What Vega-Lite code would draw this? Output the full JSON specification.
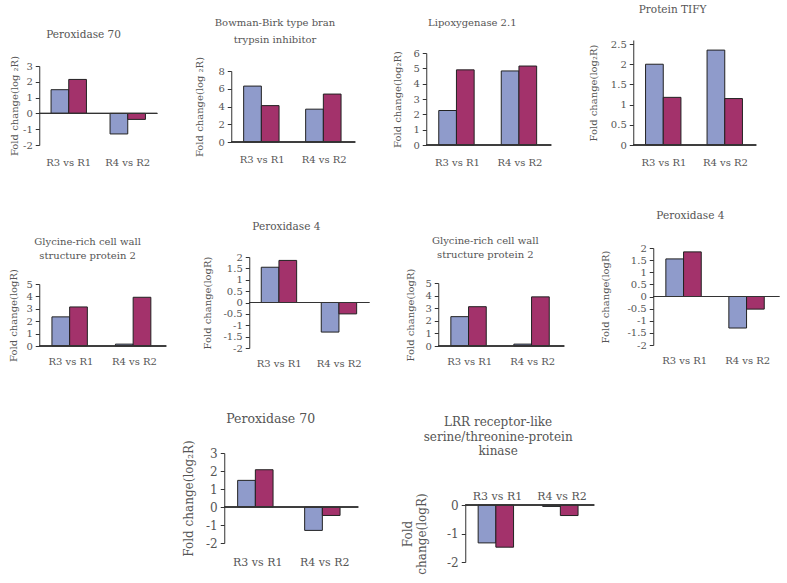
{
  "$schema": "https://vega.github.io/schema/vega-lite/v6.json",
  "background": "white",
  "padding": {"left": 8, "top": 4, "right": 5, "bottom": 0},
  "center": true,
  "spacing": 45,
  "vconcat": [
    {
      "spacing": 43,
      "center": false,
      "vconcat": [
        {
          "spacing": 36,
          "hconcat": [
            {
              "width": 118, "height": 105,
              "title": {"text": "Peroxidase 70", "offset": 0},
              "data": {"values": [
                {"comparison": "R3 vs R1", "series": "Series1", "value": 1.5},
                {"comparison": "R3 vs R1", "series": "Series2", "value": 2.15},
                {"comparison": "R4 vs R2", "series": "Series1", "value": -1.3},
                {"comparison": "R4 vs R2", "series": "Series2", "value": -0.38}
              ]},
              "layer": [
                {"mark": "bar", "encoding": {
                  "x": {"field": "comparison", "type": "nominal", "sort": null, "scale": {"paddingInner": 0.4, "paddingOuter": 0.2}, "axis": {"labelPadding": 12}},
                  "xOffset": {"field": "series", "type": "nominal", "sort": null},
                  "y": {"field": "value", "type": "quantitative", "scale": {"domain": [-2, 3], "range": [105, 26]}, "axis": {"values": [-2, -1, 0, 1, 2, 3], "labelOverlap": false, "title": "Fold change(log ₂R)", "titlePadding": 3}},
                  "color": {"field": "series", "type": "nominal", "scale": {"range": ["#8f9bcb", "#a3326b"]}, "legend": null}
                }},
                {"mark": {"type": "rule", "color": "#333"}, "encoding": {"y": {"datum": 0, "axis": {"values": [-2, -1, 0, 1, 2, 3], "labelOverlap": false, "title": "Fold change(log ₂R)", "titlePadding": 3}}}}
              ]
            },
            {
              "width": 124, "height": 102,
              "title": {"text": ["Bowman-Birk type bran", "trypsin inhibitor"], "offset": -5, "lineHeight": 16.7, "fontSize": 10},
              "data": {"values": [
                {"comparison": "R3 vs R1", "series": "Series1", "value": 6.3},
                {"comparison": "R3 vs R1", "series": "Series2", "value": 4.1},
                {"comparison": "R4 vs R2", "series": "Series1", "value": 3.7},
                {"comparison": "R4 vs R2", "series": "Series2", "value": 5.4}
              ]},
              "layer": [
                {"mark": "bar", "encoding": {
                  "x": {"field": "comparison", "type": "nominal", "sort": null, "scale": {"paddingInner": 0.4, "paddingOuter": 0.2}, "axis": {"labelPadding": 12}},
                  "xOffset": {"field": "series", "type": "nominal", "sort": null},
                  "y": {"field": "value", "type": "quantitative", "scale": {"domain": [0, 8], "range": [102, 31]}, "axis": {"values": [0, 2, 4, 6, 8], "labelOverlap": false, "title": "Fold change(log ₂R)", "titlePadding": 13.6}},
                  "color": {"field": "series", "type": "nominal", "scale": {"range": ["#8f9bcb", "#a3326b"]}, "legend": null}
                }},
                {"mark": {"type": "rule", "color": "#333"}, "encoding": {"y": {"datum": 0, "axis": {"values": [0, 2, 4, 6, 8], "labelOverlap": false, "title": "Fold change(log ₂R)", "titlePadding": 13.6}}}}
              ]
            },
            {
              "width": 125, "height": 105,
              "title": {"text": "Lipoxygenase 2.1", "offset": 12, "fontSize": 10},
              "data": {"values": [
                {"comparison": "R3 vs R1", "series": "Series1", "value": 2.25},
                {"comparison": "R3 vs R1", "series": "Series2", "value": 4.9},
                {"comparison": "R4 vs R2", "series": "Series1", "value": 4.83},
                {"comparison": "R4 vs R2", "series": "Series2", "value": 5.15}
              ]},
              "layer": [
                {"mark": "bar", "encoding": {
                  "x": {"field": "comparison", "type": "nominal", "sort": null, "scale": {"paddingInner": 0.4, "paddingOuter": 0.2}, "axis": {"labelPadding": 12}},
                  "xOffset": {"field": "series", "type": "nominal", "sort": null},
                  "y": {"field": "value", "type": "quantitative", "scale": {"domain": [0, 6], "range": [105, 13]}, "axis": {"values": [0, 1, 2, 3, 4, 5, 6], "labelOverlap": false, "title": "Fold change(log₂R)", "titlePadding": 10}},
                  "color": {"field": "series", "type": "nominal", "scale": {"range": ["#8f9bcb", "#a3326b"]}, "legend": null}
                }},
                {"mark": {"type": "rule", "color": "#333"}, "encoding": {"y": {"datum": 0, "axis": {"values": [0, 1, 2, 3, 4, 5, 6], "labelOverlap": false, "title": "Fold change(log₂R)", "titlePadding": 10}}}}
              ]
            },
            {
              "width": 123, "height": 105,
              "title": {"text": "Protein TIFY", "offset": 24},
              "data": {"values": [
                {"comparison": "R3 vs R1", "series": "Series1", "value": 2.0},
                {"comparison": "R3 vs R1", "series": "Series2", "value": 1.18},
                {"comparison": "R4 vs R2", "series": "Series1", "value": 2.35},
                {"comparison": "R4 vs R2", "series": "Series2", "value": 1.15}
              ]},
              "layer": [
                {"mark": "bar", "encoding": {
                  "x": {"field": "comparison", "type": "nominal", "sort": null, "scale": {"paddingInner": 0.4, "paddingOuter": 0.2}, "axis": {"labelPadding": 12}},
                  "xOffset": {"field": "series", "type": "nominal", "sort": null},
                  "y": {"field": "value", "type": "quantitative", "scale": {"domain": [0, 2.5]}, "axis": {"values": [0, 0.5, 1, 1.5, 2, 2.5], "labelOverlap": false, "title": "Fold change(log₂R)", "titlePadding": 12}},
                  "color": {"field": "series", "type": "nominal", "scale": {"range": ["#8f9bcb", "#a3326b"]}, "legend": null}
                }},
                {"mark": {"type": "rule", "color": "#333"}, "encoding": {"y": {"datum": 0, "axis": {"values": [0, 0.5, 1, 1.5, 2, 2.5], "labelOverlap": false, "title": "Fold change(log₂R)", "titlePadding": 12}}}}
              ]
            }
          ]
        },
        {
          "spacing": 35,
          "hconcat": [
            {
              "width": 127, "height": 98,
              "title": {"text": ["Glycine-rich cell wall", "structure protein 2"], "offset": -13, "lineHeight": 14, "fontSize": 10},
              "data": {"values": [
                {"comparison": "R3 vs R1", "series": "Series1", "value": 2.35},
                {"comparison": "R3 vs R1", "series": "Series2", "value": 3.15},
                {"comparison": "R4 vs R2", "series": "Series1", "value": 0.15},
                {"comparison": "R4 vs R2", "series": "Series2", "value": 3.93}
              ]},
              "layer": [
                {"mark": "bar", "encoding": {
                  "x": {"field": "comparison", "type": "nominal", "sort": null, "scale": {"paddingInner": 0.4, "paddingOuter": 0.2}},
                  "xOffset": {"field": "series", "type": "nominal", "sort": null},
                  "y": {"field": "value", "type": "quantitative", "scale": {"domain": [0, 5], "range": [98, 36]}, "axis": {"values": [0, 1, 2, 3, 4, 5], "labelOverlap": false, "title": "Fold change(logR)", "titlePadding": 7.4}},
                  "color": {"field": "series", "type": "nominal", "scale": {"range": ["#8f9bcb", "#a3326b"]}, "legend": null}
                }},
                {"mark": {"type": "rule", "color": "#333"}, "encoding": {"y": {"datum": 0, "axis": {"values": [0, 1, 2, 3, 4, 5], "labelOverlap": false, "title": "Fold change(logR)", "titlePadding": 7.4}}}}
              ]
            },
            {
              "width": 120, "height": 100,
              "title": {"text": "Peroxidase 4", "offset": 16},
              "data": {"values": [
                {"comparison": "R3 vs R1", "series": "Series1", "value": 1.55},
                {"comparison": "R3 vs R1", "series": "Series2", "value": 1.85},
                {"comparison": "R4 vs R2", "series": "Series1", "value": -1.3},
                {"comparison": "R4 vs R2", "series": "Series2", "value": -0.5}
              ]},
              "layer": [
                {"mark": "bar", "encoding": {
                  "x": {"field": "comparison", "type": "nominal", "sort": null, "scale": {"paddingInner": 0.4, "paddingOuter": 0.2}},
                  "xOffset": {"field": "series", "type": "nominal", "sort": null},
                  "y": {"field": "value", "type": "quantitative", "scale": {"domain": [-2, 2], "range": [100, 9]}, "axis": {"values": [-2, -1.5, -1, -0.5, 0, 0.5, 1, 1.5, 2], "labelOverlap": false, "title": "Fold change(logR)", "titlePadding": 10}},
                  "color": {"field": "series", "type": "nominal", "scale": {"range": ["#8f9bcb", "#a3326b"]}, "legend": null}
                }},
                {"mark": {"type": "rule", "color": "#333"}, "encoding": {"y": {"datum": 0, "axis": {"values": [-2, -1.5, -1, -0.5, 0, 0.5, 1, 1.5, 2], "labelOverlap": false, "title": "Fold change(logR)", "titlePadding": 10}}}}
              ]
            },
            {
              "width": 126, "height": 98,
              "title": {"text": ["Glycine-rich cell wall", "structure protein 2"], "offset": -12, "lineHeight": 14, "fontSize": 10},
              "data": {"values": [
                {"comparison": "R3 vs R1", "series": "Series1", "value": 2.33},
                {"comparison": "R3 vs R1", "series": "Series2", "value": 3.12},
                {"comparison": "R4 vs R2", "series": "Series1", "value": 0.15},
                {"comparison": "R4 vs R2", "series": "Series2", "value": 3.9}
              ]},
              "layer": [
                {"mark": "bar", "encoding": {
                  "x": {"field": "comparison", "type": "nominal", "sort": null, "scale": {"paddingInner": 0.4, "paddingOuter": 0.2}},
                  "xOffset": {"field": "series", "type": "nominal", "sort": null},
                  "y": {"field": "value", "type": "quantitative", "scale": {"domain": [0, 5], "range": [98, 35]}, "axis": {"values": [0, 1, 2, 3, 4, 5], "labelOverlap": false, "title": "Fold change(logR)", "titlePadding": 9}},
                  "color": {"field": "series", "type": "nominal", "scale": {"range": ["#8f9bcb", "#a3326b"]}, "legend": null}
                }},
                {"mark": {"type": "rule", "color": "#333"}, "encoding": {"y": {"datum": 0, "axis": {"values": [0, 1, 2, 3, 4, 5], "labelOverlap": false, "title": "Fold change(logR)", "titlePadding": 9}}}}
              ]
            },
            {
              "width": 126, "height": 97,
              "title": {"text": "Peroxidase 4", "offset": 22},
              "data": {"values": [
                {"comparison": "R3 vs R1", "series": "Series1", "value": 1.55},
                {"comparison": "R3 vs R1", "series": "Series2", "value": 1.84},
                {"comparison": "R4 vs R2", "series": "Series1", "value": -1.3},
                {"comparison": "R4 vs R2", "series": "Series2", "value": -0.52}
              ]},
              "layer": [
                {"mark": "bar", "encoding": {
                  "x": {"field": "comparison", "type": "nominal", "sort": null, "scale": {"paddingInner": 0.4, "paddingOuter": 0.2}},
                  "xOffset": {"field": "series", "type": "nominal", "sort": null},
                  "y": {"field": "value", "type": "quantitative", "scale": {"domain": [-2, 2]}, "axis": {"values": [-2, -1.5, -1, -0.5, 0, 0.5, 1, 1.5, 2], "labelOverlap": false, "title": "Fold change(logR)", "titlePadding": 16}},
                  "color": {"field": "series", "type": "nominal", "scale": {"range": ["#8f9bcb", "#a3326b"]}, "legend": null}
                }},
                {"mark": {"type": "rule", "color": "#333"}, "encoding": {"y": {"datum": 0, "axis": {"values": [-2, -1.5, -1, -0.5, 0, 0.5, 1, 1.5, 2], "labelOverlap": false, "title": "Fold change(logR)", "titlePadding": 16}}}}
              ]
            }
          ]
        }
      ]
    },
    {
      "spacing": 42,
      "hconcat": [
        {
          "width": 134, "height": 90,
          "title": {"text": "Peroxidase 70", "fontSize": 12.5, "offset": 14},
          "data": {"values": [
            {"comparison": "R3 vs R1", "series": "Series1", "value": 1.48},
            {"comparison": "R3 vs R1", "series": "Series2", "value": 2.07},
            {"comparison": "R4 vs R2", "series": "Series1", "value": -1.3},
            {"comparison": "R4 vs R2", "series": "Series2", "value": -0.47}
          ]},
          "layer": [
            {"mark": "bar", "encoding": {
              "x": {"field": "comparison", "type": "nominal", "sort": null, "scale": {"paddingInner": 0.4, "paddingOuter": 0.2}, "axis": {"labelFontSize": 11, "labelPadding": 13}},
              "xOffset": {"field": "series", "type": "nominal", "sort": null},
              "y": {"field": "value", "type": "quantitative", "scale": {"domain": [-2, 3]}, "axis": {"values": [-2, -1, 0, 1, 2, 3], "labelOverlap": false, "title": "Fold change(log₂R)", "titlePadding": 10, "labelFontSize": 12, "titleFontSize": 12}},
              "color": {"field": "series", "type": "nominal", "scale": {"range": ["#8f9bcb", "#a3326b"]}, "legend": null}
            }},
            {"mark": {"type": "rule", "color": "#333"}, "encoding": {"y": {"datum": 0, "axis": {"values": [-2, -1, 0, 1, 2, 3], "labelOverlap": false, "title": "Fold change(log₂R)", "titlePadding": 10, "labelFontSize": 12, "titleFontSize": 12}}}}
          ]
        },
        {
          "width": 129, "height": 109,
          "title": {"text": ["LRR receptor-like", "serine/threonine-protein", "kinase"], "fontSize": 12, "lineHeight": 14.5, "offset": -5},
          "data": {"values": [
            {"comparison": "R3 vs R1", "series": "Series1", "value": -1.33},
            {"comparison": "R3 vs R1", "series": "Series2", "value": -1.48},
            {"comparison": "R4 vs R2", "series": "Series1", "value": -0.05},
            {"comparison": "R4 vs R2", "series": "Series2", "value": -0.37}
          ]},
          "layer": [
            {"mark": "bar", "encoding": {
              "x": {"field": "comparison", "type": "nominal", "sort": null, "scale": {"paddingInner": 0.4, "paddingOuter": 0.2}, "axis": {"orient": "top", "labelFontSize": 11, "labelPadding": 4, "offset": -52}},
              "xOffset": {"field": "series", "type": "nominal", "sort": null},
              "y": {"field": "value", "type": "quantitative", "scale": {"domain": [-2, 0], "range": [109, 52]}, "axis": {"values": [-2, -1, 0], "labelOverlap": false, "title": ["Fold", "change(logR)"], "titlePadding": 18, "labelFontSize": 12, "titleFontSize": 12}},
              "color": {"field": "series", "type": "nominal", "scale": {"range": ["#8f9bcb", "#a3326b"]}, "legend": null}
            }},
            {"mark": {"type": "rule", "color": "#333"}, "encoding": {"y": {"datum": 0, "axis": {"values": [-2, -1, 0], "labelOverlap": false, "title": ["Fold", "change(logR)"], "titlePadding": 18, "labelFontSize": 12, "titleFontSize": 12}}}}
          ]
        }
      ]
    }
  ],
  "config": {
    "font": "DejaVu Serif",
    "view": {"stroke": null},
    "axis": {"labelFont": "DejaVu Serif", "titleFont": "DejaVu Serif", "labelColor": "#555", "titleColor": "#555", "titleFontWeight": "normal", "domainColor": "#333", "tickColor": "#333", "grid": false, "labelFontSize": 10, "titleFontSize": 10, "labelOverlap": false, "labelBound": false},
    "axisX": {"domain": false, "ticks": false, "labelAngle": 0, "title": null, "labelPadding": 10, "labelFontSize": 10},
    "axisY": {"tickSize": 4, "labelPadding": 3, "labelExpr": "'' + datum.value"},
    "title": {"font": "DejaVu Serif", "fontWeight": "normal", "color": "#555", "fontSize": 10.5, "frame": "bounds", "anchor": "middle"},
    "bar": {"stroke": "#222", "strokeWidth": 1}
  }
}
